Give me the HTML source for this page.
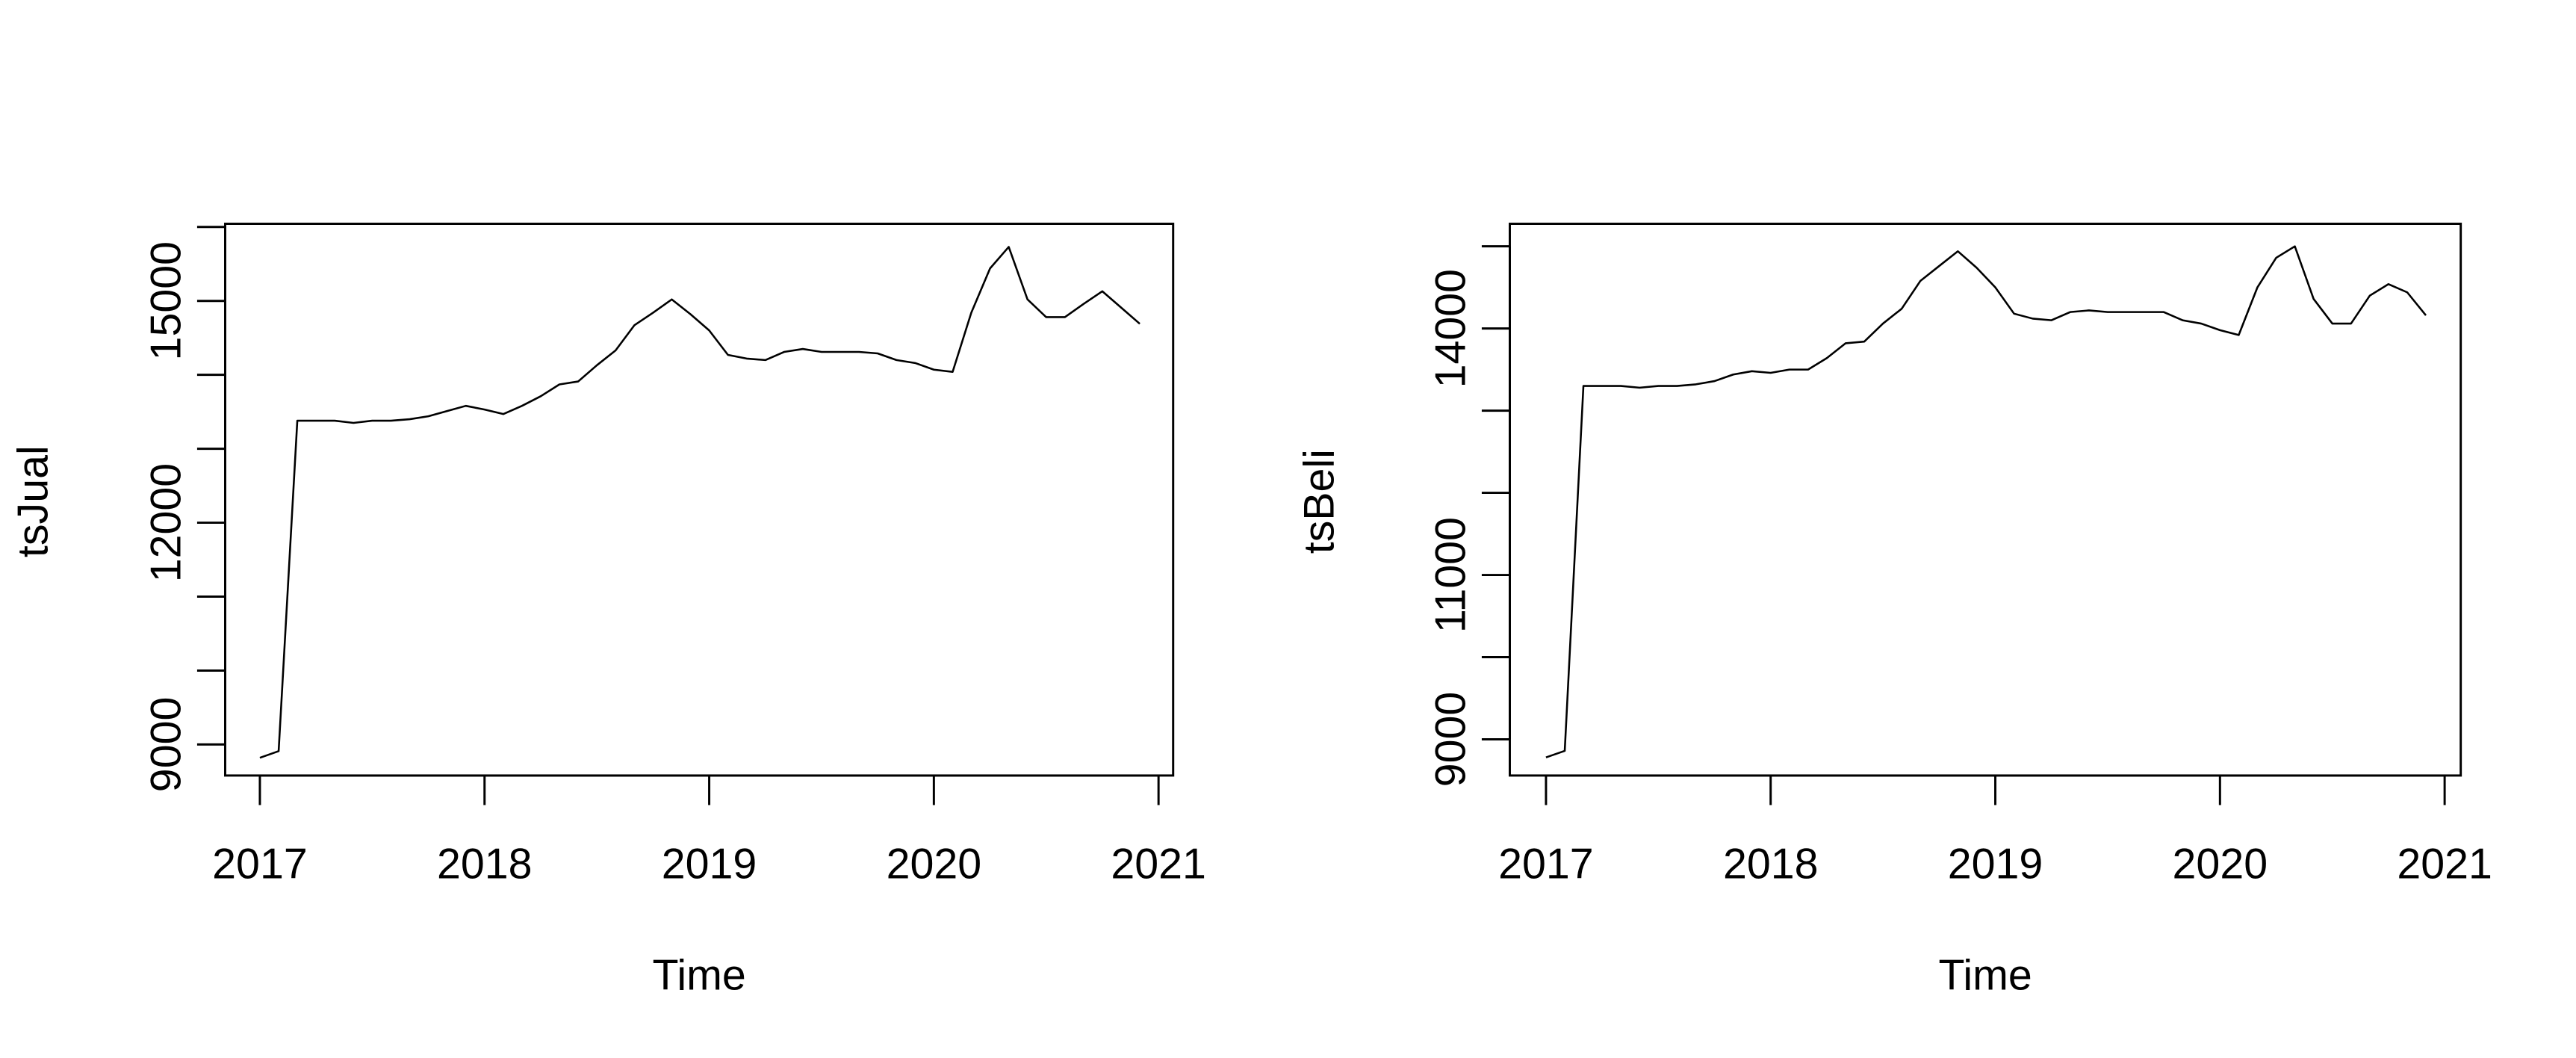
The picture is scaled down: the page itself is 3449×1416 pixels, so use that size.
<!DOCTYPE html>
<html><head><meta charset="utf-8"><style>
html,body{margin:0;padding:0;background:#fff;}
svg{display:block;font-family:"Liberation Sans",sans-serif;}
</style></head><body>
<svg width="3449" height="1416" viewBox="0 0 3449 1416"><g id="chart" transform="scale(0.9885)"></g></svg>
<script>
const months = 48;
const startYear = 2017;
const xTickYears = [2017, 2018, 2019, 2020, 2021];
const jualValues = [8820,8910,13380,13380,13380,13350,13380,13380,13400,13440,13510,13580,
 13530,13470,13580,13710,13870,13910,14130,14330,14670,14840,15020,14820,
 14600,14270,14220,14200,14310,14350,14310,14310,14310,14290,14200,14160,
 14070,14040,14840,15440,15730,15020,14780,14780,14960,15130,14910,14690];
const beliValues = [8780,8860,13300,13300,13300,13280,13300,13300,13320,13360,13440,13480,
 13460,13500,13500,13640,13820,13840,14060,14240,14580,14760,14940,14740,
 14500,14180,14120,14100,14200,14220,14200,14200,14200,14200,14100,14060,
 13980,13920,14500,14860,15000,14360,14060,14060,14400,14540,14440,14160];
const jualYTicks = [9000,10000,11000,12000,13000,14000,15000,16000];
const jualYLabels = [9000,12000,15000];
const beliYTicks = [9000,10000,11000,12000,13000,14000,15000];
const beliYLabels = [9000,11000,14000];

const NS = "http://www.w3.org/2000/svg";
const svg = document.getElementById("chart");
function mk(tag, attrs, parent){const e=document.createElementNS(NS,tag);for(const k in attrs)e.setAttribute(k,attrs[k]);(parent||svg).appendChild(e);return e;}

function panel(cfg){
  const g = mk("g",{});
  
  
  const xs = t => cfg.x2017 + (t-2017)*cfg.pxYear;
  const ys = v => cfg.y9000 - (v-9000)*cfg.pxPer1000/1000;
  const box = mk("rect",{x:cfg.bx1,y:cfg.by1,width:cfg.bx2-cfg.bx1,height:cfg.by2-cfg.by1,fill:"none",stroke:"#000","stroke-width":3},g);
  
  
  const xa = mk("line",{x1:xs(xTickYears[0]),x2:xs(xTickYears[xTickYears.length-1]),y1:cfg.by2,y2:cfg.by2,stroke:"#000","stroke-width":3},g);
  
  
  xTickYears.forEach(yr=>{
    const t = mk("line",{x1:xs(yr),x2:xs(yr),y1:cfg.by2,y2:cfg.by2+40,stroke:"#000","stroke-width":3},g);
    
    
    const l = mk("text",{x:xs(yr),y:1189,"text-anchor":"middle","font-size":58,fill:"#000"},g);
    l.textContent = yr;
    
    
  });
  const ya = mk("line",{x1:cfg.bx1,x2:cfg.bx1,y1:ys(cfg.yTicks[0]),y2:ys(cfg.yTicks[cfg.yTicks.length-1]),stroke:"#000","stroke-width":3},g);
  
  
  cfg.yTicks.forEach(v=>{
    const t = mk("line",{x1:cfg.bx1-38,x2:cfg.bx1,y1:ys(v),y2:ys(v),stroke:"#000","stroke-width":3},g);
    
    
  });
  cfg.yLabels.forEach(v=>{
    const cx = cfg.bx1-80, cy = ys(v);
    const l = mk("text",{x:cx,y:cy,"text-anchor":"middle","dominant-baseline":"central","font-size":58,fill:"#000",transform:`rotate(-90 ${cx} ${cy})`},g);
    l.textContent = v;
    
    
  });
  const yt = mk("text",{x:cfg.ylabX,y:679,"text-anchor":"middle","dominant-baseline":"central","font-size":58,fill:"#000",transform:`rotate(-90 ${cfg.ylabX} 679)`},g);
  yt.textContent = cfg.ylab;
  
  
  const xt = mk("text",{x:(cfg.bx1+cfg.bx2)/2,y:1340,"text-anchor":"middle","font-size":58,fill:"#000"},g);
  xt.textContent = "Time";
  
  
  const pts = cfg.values.map((v,i)=>xs(startYear+i/12).toFixed(1)+","+ys(v).toFixed(1)).join(" ");
  const pl = mk("polyline",{points:pts,fill:"none",stroke:"#000","stroke-width":2.6,"stroke-linejoin":"round"},g);
  
  
}
panel({name:"jual",bx1:305,bx2:1589,by1:303,by2:1050,x2017:352,pxYear:304.3,y9000:1008,pxPer1000:100.1,
  yTicks:jualYTicks,yLabels:jualYLabels,ylab:"tsJual",ylabX:45,values:jualValues});
panel({name:"beli",bx1:2045,bx2:3333,by1:303,by2:1050,x2017:2094,pxYear:304.3,y9000:1001,pxPer1000:111.25,
  yTicks:beliYTicks,yLabels:beliYLabels,ylab:"tsBeli",ylabX:1787,values:beliValues});
</script>
</body></html>
